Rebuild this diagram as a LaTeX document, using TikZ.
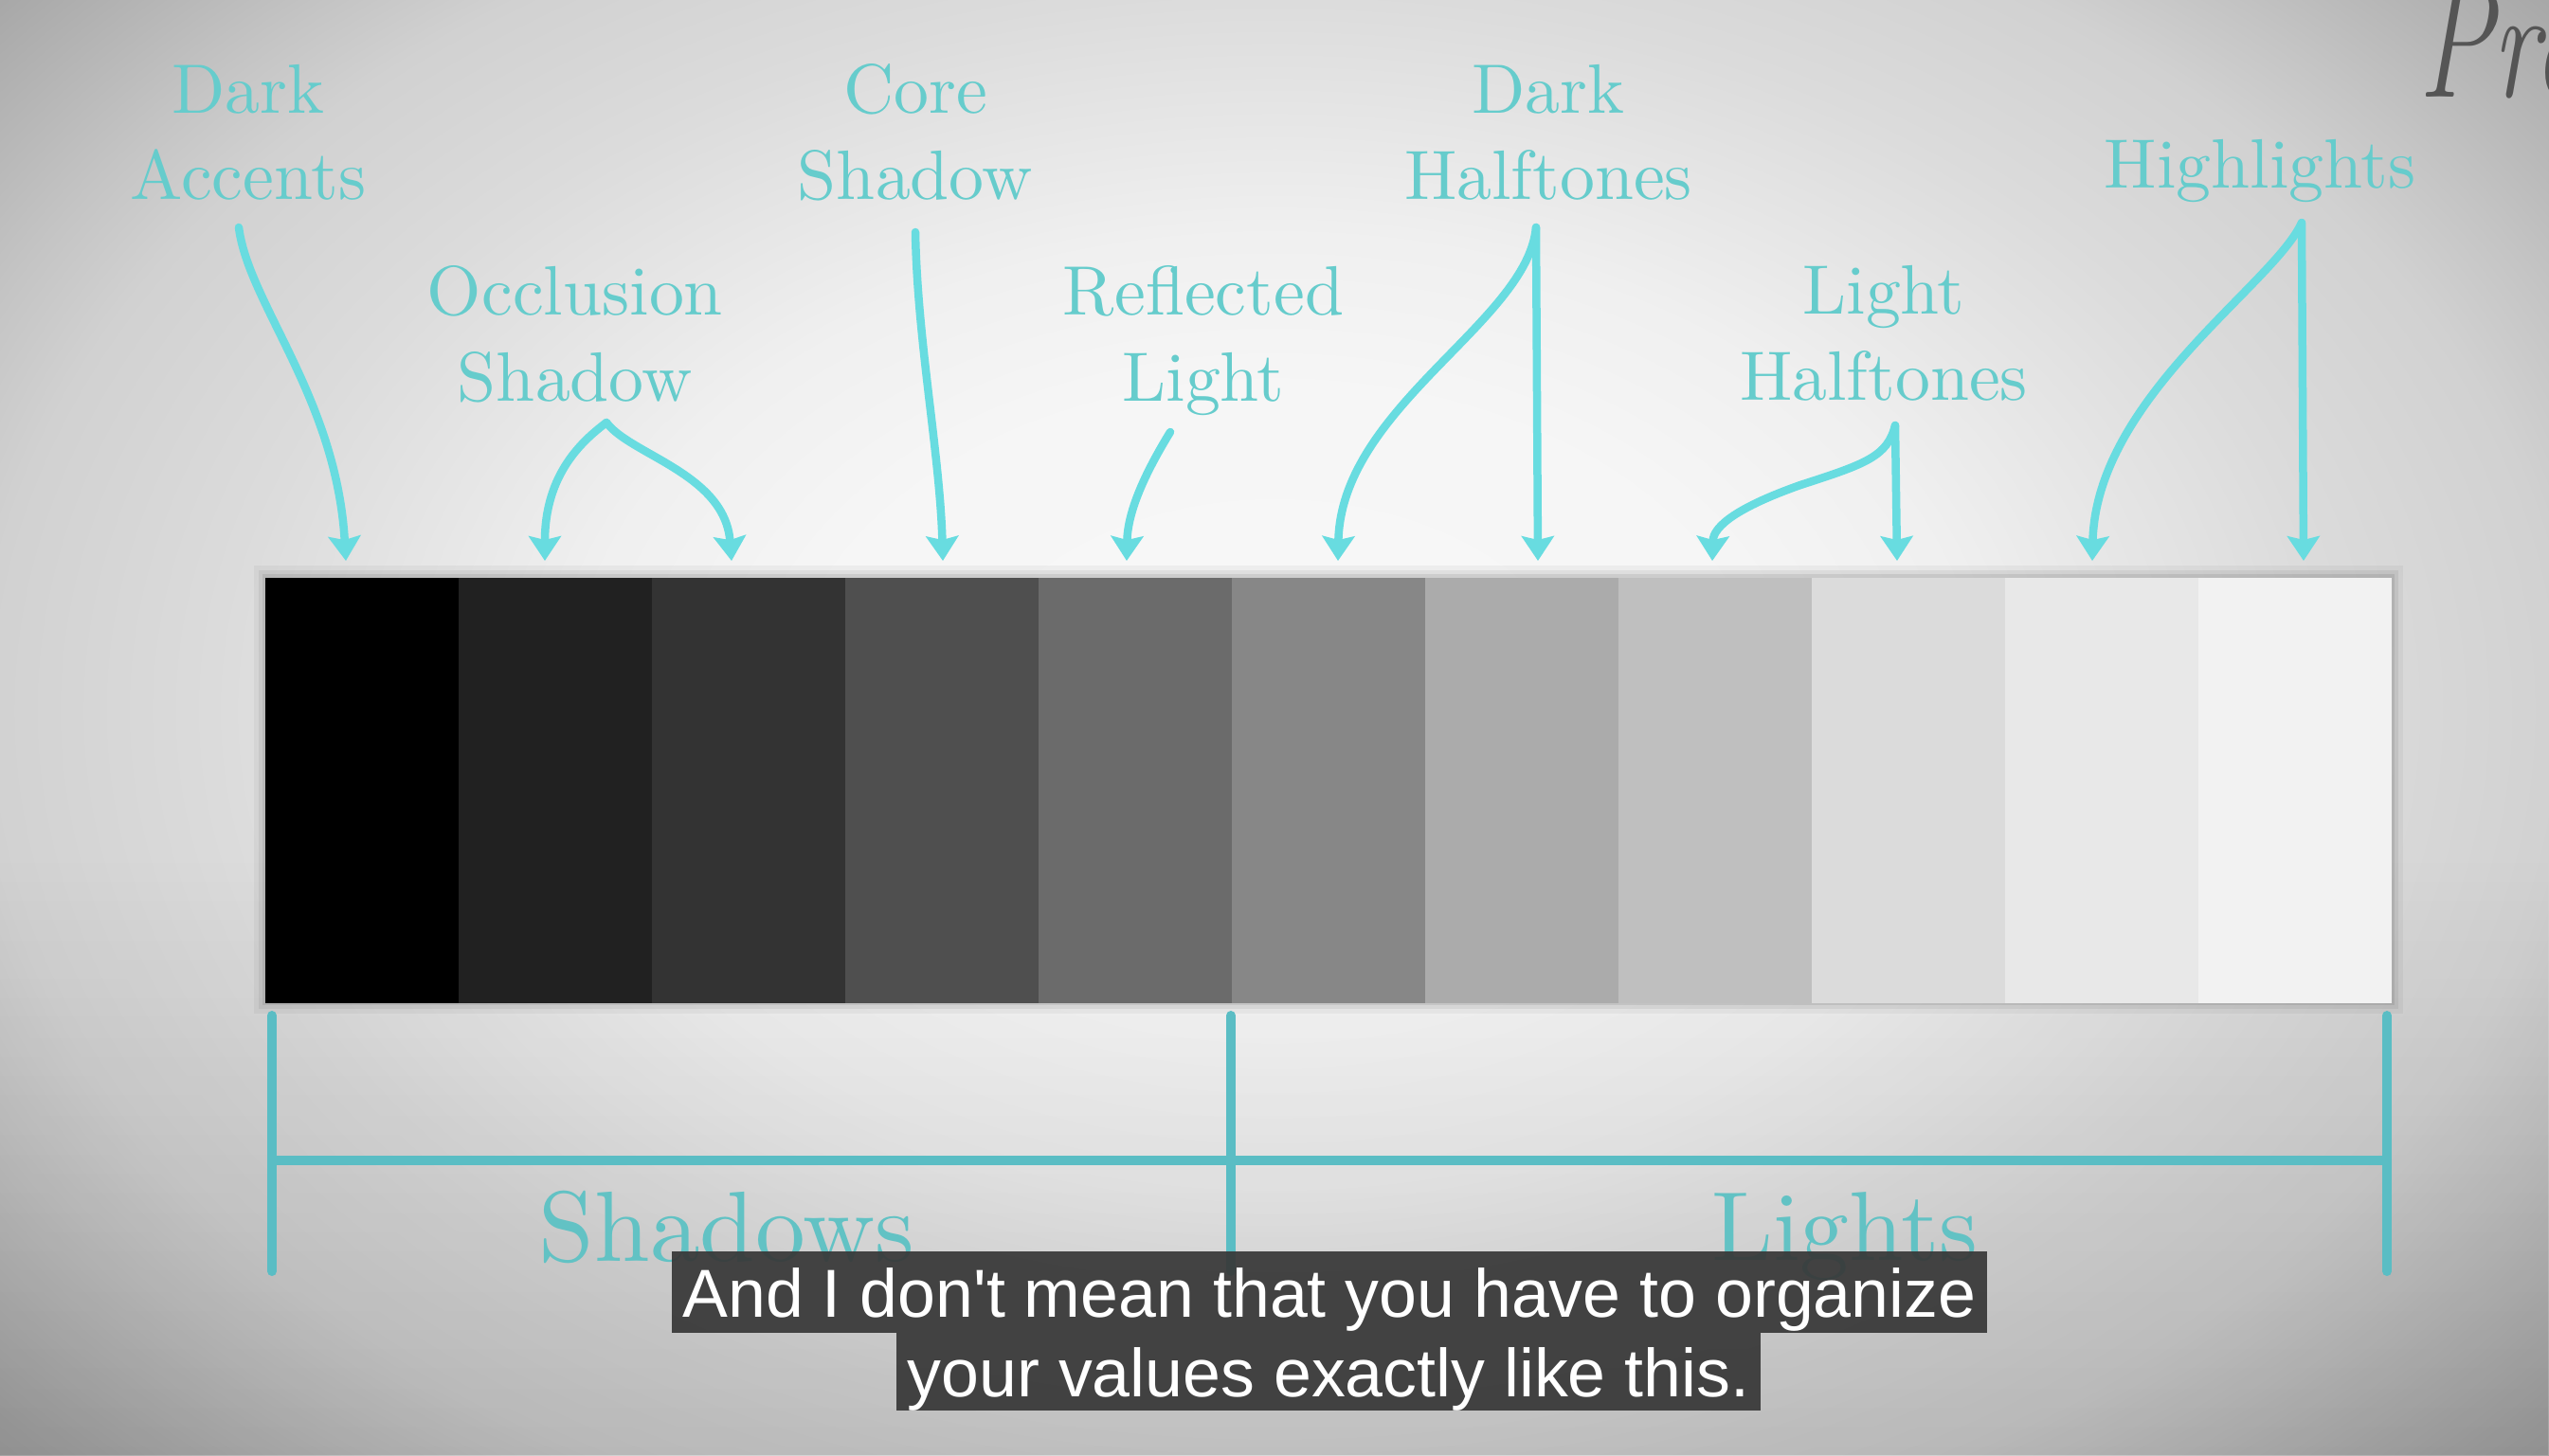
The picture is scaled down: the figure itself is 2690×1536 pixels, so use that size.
\documentclass[tikz,border=0pt]{standalone}
\usepackage{fontspec}
\usepackage{tikz}
\usetikzlibrary{arrows.meta}
\usetikzlibrary{positioning}
\usetikzlibrary{calc}
\usetikzlibrary{fadings}

\newfontfamily\capfont{Liberation Sans}
\newfontfamily\lblfont{lmroman10-regular.otf}

\definecolor{tealtext}{HTML}{66CCCC}
\definecolor{tealarrow}{HTML}{68DCE0}
\definecolor{tealbar}{HTML}{5ABDC4}
\definecolor{tealgroup}{HTML}{62C2C4}
\definecolor{penink}{HTML}{555555}
\definecolor{capbox}{HTML}{383838}

\pgfdeclareradialshading{paper}{\pgfpoint{0bp}{0bp}}{rgb(0bp)=(.97,.97,.97); rgb(8bp)=(.965,.965,.965); rgb(12bp)=(.94,.94,.94); rgb(18bp)=(.86,.86,.86); rgb(22bp)=(.82,.82,.82); rgb(24bp)=(.77,.77,.77); rgb(28bp)=(.66,.66,.66); rgb(32bp)=(.59,.59,.59); rgb(50bp)=(.5,.5,.5)}

\begin{document}
\begin{tikzpicture}[x=0.1mm, y=-0.1mm,
    cell/.style={minimum width=20.4mm, minimum height=44.9mm, inner sep=0pt, outer sep=0pt},
    lbl/.style={text=tealtext, align=center, inner sep=0pt, font=\lblfont\fontsize{21}{25.9}\selectfont},
    grp/.style={text=tealgroup, inner sep=0pt, font=\lblfont\fontsize{30}{36}\selectfont},
    arr/.style={draw=tealarrow, line width=0.85mm, line cap=round, -{Stealth[length=2.6mm, width=3.4mm, inset=0.4mm]}},
    brk/.style={draw=tealbar, line width=1mm, line cap=round},
    caption/.style={fill=capbox, fill opacity=0.93, text opacity=1, text=white, inner xsep=1.2mm, inner ysep=0pt, text height=6.2mm, text depth=1mm, font=\capfont\fontsize{20.4}{24}\selectfont},
    pen/.style={text=penink, inner sep=0pt, font=\fontsize{48}{52}\selectfont\itshape}]

        \useasboundingbox (0,0) rectangle (2690,1536);

        % Paper background
        \begin{scope}
          \clip (0,0) rectangle (2690,1536);
          \shade[shading=paper] (-205,-300) rectangle (2895,1800);
          \fill[black, opacity=0.12, path fading=north] (0,900) rectangle (2690,1536);
        \end{scope}

        % Width of one value cell
        \def\cellw{204}

        % Soft shadow round the scale
        \foreach \d/\o in {12/0.04, 7/0.06, 3/0.08} {
          \fill[black, opacity=\o] ({280-\d}, {609-\d}) rectangle ({280+11*\cellw+\d}, {1058+\d});
        }

        % Value scale, dark to light
        \foreach \g [count=\i] in {0,13,20,31,42,53,67,75,86,91,95} {
          \node[cell, fill=white!\g!black] (c\i) at ({280 + (\i-0.5)*\cellw}, 834) {};
        }

        % Labels above the scale
        \node[lbl] (dacc) at (262,140) {Dark\\Accents};
        \node[lbl] (occ) at (607,353) {Occlusion\\Shadow};
        \node[lbl] (core) at (966,140) {Core\\Shadow};
        \node[lbl] (refl) at (1270,360) {Reflected\\Light};
        \node[lbl] (dhalf) at (1634,140) {Dark\\Halftones};
        \node[lbl] (lhalf) at (1988,352) {Light\\Halftones};
        \node[lbl] (high) at (2385,180) {Highlights};

        % Arrow ends
        \coordinate (da-s) at (252,240);
        \coordinate (da-e) at (365,592);
        \coordinate (os-p) at (640,446);
        \coordinate (os-l) at (575,592);
        \coordinate (os-r) at (772,592);
        \coordinate (cs-s) at (966,245);
        \coordinate (cs-e) at (995,592);
        \coordinate (rl-s) at (1235,456);
        \coordinate (rl-e) at (1189,592);
        \coordinate (dh-p) at (1621,240);
        \coordinate (dh-l) at (1412,592);
        \coordinate (dh-r) at (1623,592);
        \coordinate (lh-p) at (2000,449);
        \coordinate (lh-l) at (1807,592);
        \coordinate (lh-r) at (2002,592);
        \coordinate (hl-p) at (2429,235);
        \coordinate (hl-l) at (2208,592);
        \coordinate (hl-r) at (2431,592);

        % Arrows down to the cells
        \draw[arr] (da-s) .. controls (262,320) and (355,420) .. (da-e);
        \draw[arr] (os-p) .. controls (615,465) and (575,500) .. (os-l);
        \draw[arr] (os-p) .. controls (665,480) and (765,500) .. (os-r);
        \draw[arr] (cs-s) .. controls (968,360) and (992,480) .. (cs-e);
        \draw[arr] (rl-s) .. controls (1208,500) and (1190,540) .. (rl-e);
        \draw[arr] (dh-p) .. controls (1612,340) and (1415,430) .. (dh-l);
        \draw[arr] (dh-p) -- (dh-r);
        \draw[arr] (lh-p) .. controls (1992,482) and (1968,490) .. (1900,512)
                          .. controls (1835,535) and (1808,555) .. (lh-l);
        \draw[arr] (lh-p) -- (lh-r);
        \draw[arr] (hl-p) .. controls (2400,300) and (2212,420) .. (hl-l);
        \draw[arr] (hl-p) -- (hl-r);

        % Bracket under the scale
        \coordinate (sh-top) at (287,1072);
        \coordinate (sh-bot) at (287,1342);
        \coordinate (mid-top) at (1299,1072);
        \coordinate (mid-bot) at (1299,1342);
        \coordinate (li-top) at (2519,1072);
        \coordinate (li-bot) at (2519,1342);
        \coordinate (sh-bar) at (287,1225);
        \coordinate (li-bar) at (2519,1225);
        \draw[brk] (sh-top) -- (sh-bot);
        \draw[brk] (mid-top) -- (mid-bot);
        \draw[brk] (li-top) -- (li-bot);
        \draw[brk] (sh-bar) -- (li-bar);

        \node[grp] (shad) at (767,1295) {Shadows};
        \node[grp, font=\lblfont\fontsize{29.5}{36}\selectfont] (lig) at (1947,1305) {Lights};

        % Handwriting cut off at the corner
        \node[pen, anchor=base west, xscale=0.7, transform shape] (pro) at (2552,102) {Pro};

        % Subtitle
        \node[caption, minimum height=8.6mm] (cap1) at (1403,1364) {And I don\textquotesingle t mean that you have to organize};
        \node[caption, minimum height=8.2mm] (cap2) at (1402,1448) {your values exactly like this.};

      \end{tikzpicture}
\end{document}
